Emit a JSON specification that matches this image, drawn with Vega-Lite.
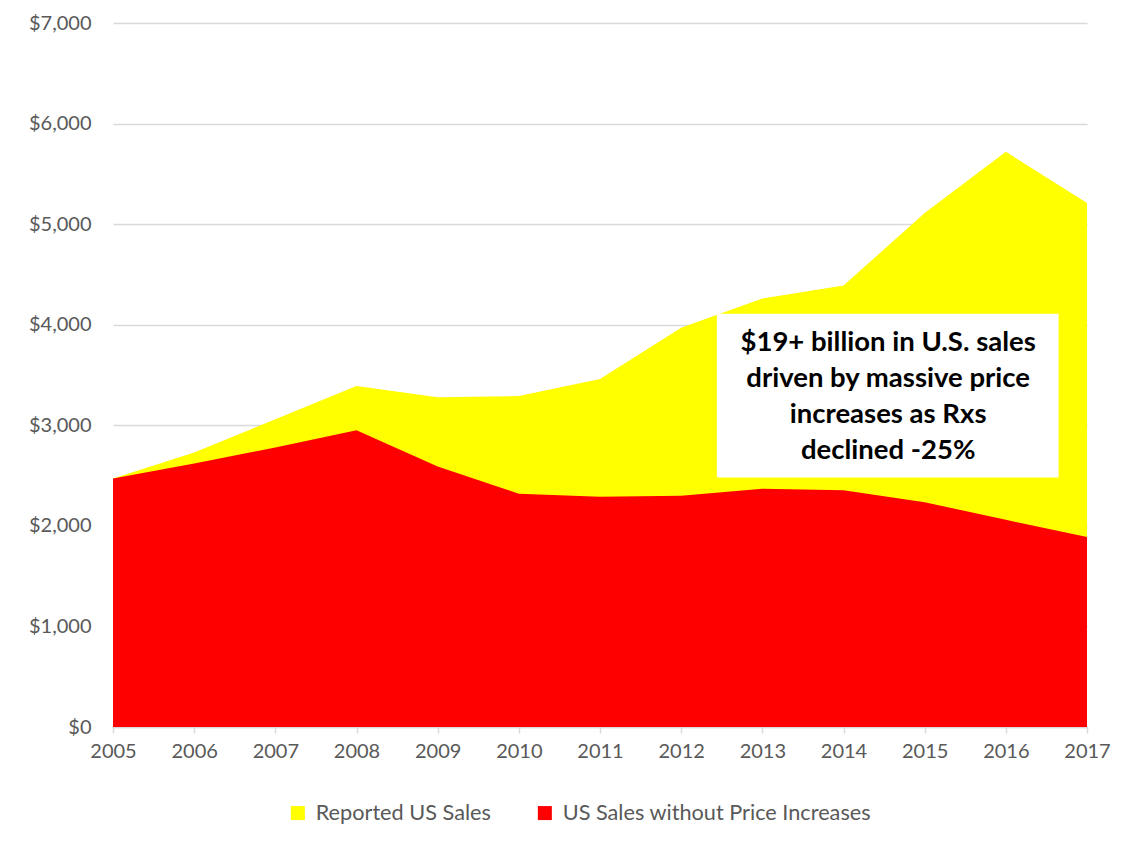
{
  "$schema": "https://vega.github.io/schema/vega-lite/v6.json",
  "autosize": "none",
  "width": 974,
  "height": 704,
  "padding": {"left": 113, "top": 23, "right": 39, "bottom": 115},
  "background": "white",
  "config": {
    "font": "Lato",
    "view": {"stroke": null},
    "axis": {"labelFont": "Lato", "labelColor": "#595959", "labelFontSize": 20, "titleFont": "Lato"},
    "legend": {"labelFont": "Lato", "labelColor": "#595959", "labelFontSize": 21.7}
  },
  "datasets": {
    "sales": [
      {"year": 2005, "series": "Reported US Sales", "value": 2470},
      {"year": 2006, "series": "Reported US Sales", "value": 2730},
      {"year": 2007, "series": "Reported US Sales", "value": 3060},
      {"year": 2008, "series": "Reported US Sales", "value": 3390},
      {"year": 2009, "series": "Reported US Sales", "value": 3280},
      {"year": 2010, "series": "Reported US Sales", "value": 3290},
      {"year": 2011, "series": "Reported US Sales", "value": 3460},
      {"year": 2012, "series": "Reported US Sales", "value": 3970},
      {"year": 2013, "series": "Reported US Sales", "value": 4260},
      {"year": 2014, "series": "Reported US Sales", "value": 4390},
      {"year": 2015, "series": "Reported US Sales", "value": 5110},
      {"year": 2016, "series": "Reported US Sales", "value": 5720},
      {"year": 2017, "series": "Reported US Sales", "value": 5210},
      {"year": 2005, "series": "US Sales without Price Increases", "value": 2470},
      {"year": 2006, "series": "US Sales without Price Increases", "value": 2620},
      {"year": 2007, "series": "US Sales without Price Increases", "value": 2780},
      {"year": 2008, "series": "US Sales without Price Increases", "value": 2950},
      {"year": 2009, "series": "US Sales without Price Increases", "value": 2590},
      {"year": 2010, "series": "US Sales without Price Increases", "value": 2320},
      {"year": 2011, "series": "US Sales without Price Increases", "value": 2290},
      {"year": 2012, "series": "US Sales without Price Increases", "value": 2300},
      {"year": 2013, "series": "US Sales without Price Increases", "value": 2370},
      {"year": 2014, "series": "US Sales without Price Increases", "value": 2355},
      {"year": 2015, "series": "US Sales without Price Increases", "value": 2235},
      {"year": 2016, "series": "US Sales without Price Increases", "value": 2060},
      {"year": 2017, "series": "US Sales without Price Increases", "value": 1890}
    ],
    "note": [
      {"x1": 2012.44, "x2": 2016.65, "y1": 2480, "y2": 4110, "xc": 2014.55, "yc": 3820, "label": ["$19+ billion in U.S. sales", "driven by massive price", "increases as Rxs", "declined -25%"]}
    ]
  },
  "layer": [
    {
      "data": {"name": "sales"},
      "mark": {"type": "area", "opacity": 1},
      "encoding": {
        "x": {
          "field": "year", "type": "quantitative",
          "scale": {"domain": [2005, 2017], "nice": false, "zero": false},
          "axis": {"title": null, "format": "d", "values": [2005,2006,2007,2008,2009,2010,2011,2012,2013,2014,2015,2016,2017],
                   "labelFlush": false, "labelOverlap": false, "labelBound": false,
                   "grid": false, "domainColor": "#d9d9d9", "domainWidth": 1.5, "tickColor": "#d9d9d9", "tickSize": 6, "tickWidth": 1.5, "labelPadding": 8}
        },
        "y": {
          "field": "value", "type": "quantitative", "stack": null,
          "scale": {"domain": [0, 7000], "nice": false},
          "axis": {"title": null, "format": "$,.0f", "values": [0,1000,2000,3000,4000,5000,6000,7000],
                   "domain": false, "ticks": false, "gridColor": "#d9d9d9", "gridWidth": 1.5, "labelPadding": 22}
        },
        "color": {
          "field": "series", "type": "nominal",
          "scale": {"domain": ["Reported US Sales", "US Sales without Price Increases"], "range": ["#FFFF00", "#FF0000"]},
          "legend": {"title": null, "orient": "none", "direction": "horizontal", "legendX": 174, "legendY": 779,
                     "labelLimit": 500,
                     "symbolType": "square", "symbolSize": 196, "symbolStrokeWidth": 0, "symbolOpacity": 1, "columnPadding": 43, "labelOffset": 7}
        },
        "order": {"field": "series"}
      }
    },
    {
      "data": {"name": "note"},
      "mark": {"type": "rect", "color": "white"},
      "encoding": {
        "x": {"field": "x1", "type": "quantitative"},
        "x2": {"field": "x2"},
        "y": {"field": "y1", "type": "quantitative"},
        "y2": {"field": "y2"}
      }
    },
    {
      "data": {"name": "note"},
      "mark": {"type": "text", "font": "Lato", "fontWeight": "bold", "fontSize": 27.5, "color": "#000000", "align": "center", "baseline": "middle", "lineHeight": 36},
      "encoding": {
        "x": {"field": "xc", "type": "quantitative"},
        "y": {"field": "yc", "type": "quantitative"},
        "text": {"field": "label"}
      }
    }
  ]
}
